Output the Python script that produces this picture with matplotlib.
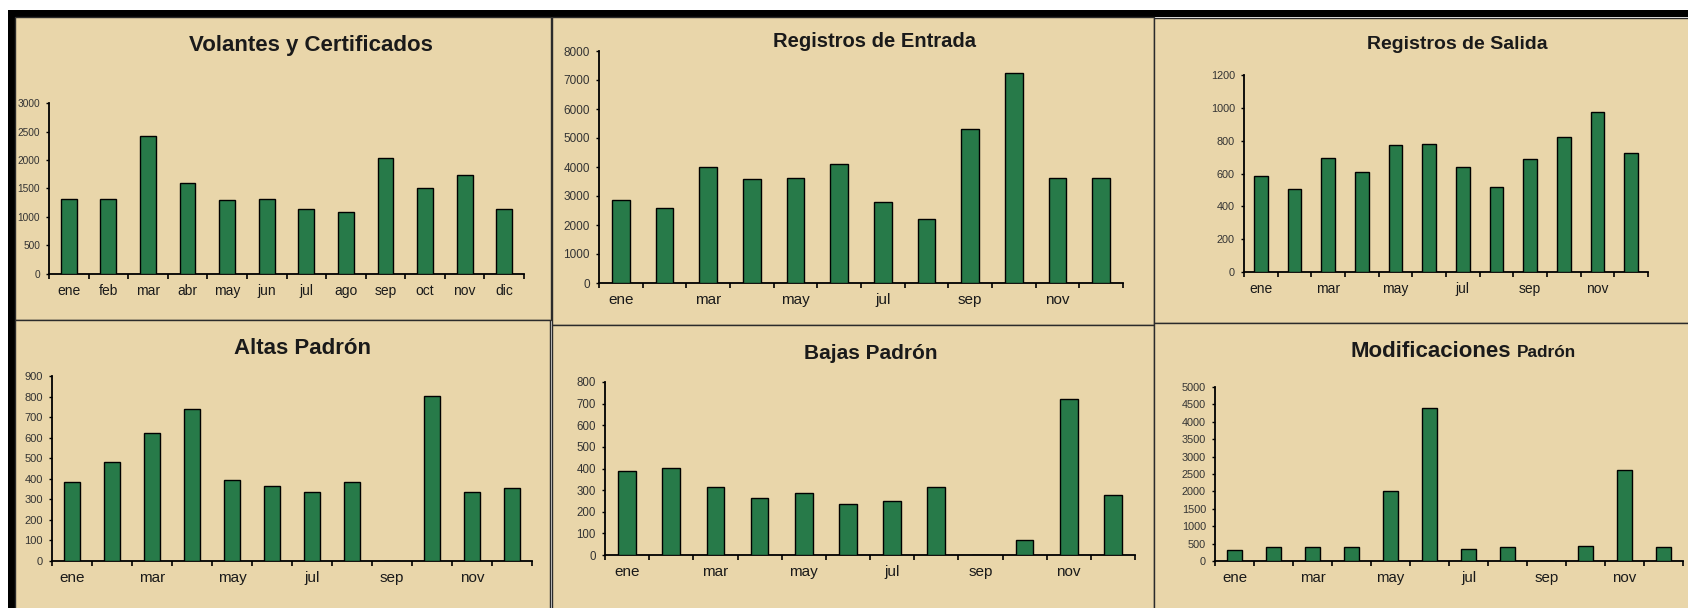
import matplotlib
matplotlib.use("Agg")
import matplotlib.pyplot as plt
from matplotlib.patches import Rectangle

W, H = 1688, 608

meses = ["ene", "feb", "mar", "abr", "may", "jun",
         "jul", "ago", "sep", "oct", "nov", "dic"]

volantes = [1320, 1320, 2425, 1600, 1300, 1320, 1135, 1080, 2040, 1515, 1740, 1135]
entrada = [2870, 2595, 4005, 3570, 3615, 4110, 2810, 2215, 5300, 7255, 3615, 3615]
salida = [582, 505, 697, 610, 774, 782, 639, 515, 687, 823, 973, 724]
altas = [382, 481, 625, 741, 396, 365, 335, 382, 0, 801, 335, 357]
bajas = [388, 402, 314, 263, 286, 235, 249, 314, 0, 68, 721, 278]
modif = [316, 393, 393, 393, 2020, 4405, 354, 393, 0, 441, 2605, 393]

BG = "#E9D6AA"
BAR = "#277A49"
TXT = "#1a1a1a"
SANS = ["Liberation Sans", "DejaVu Sans"]

fig = plt.figure(figsize=(W / 100, H / 100), dpi=100)
fig.patch.set_facecolor("white")


def fx(x):
    return x / W


def fy(y):
    return 1 - y / H


def box(x0, y0, x1, y1, fc=BG, ec="#2b2b2b", lw=1.0):
    fig.patches.append(Rectangle((fx(x0), fy(y1)), fx(x1) - fx(x0), fy(y0) - fy(y1),
                                 transform=fig.transFigure, facecolor=fc,
                                 edgecolor=ec, linewidth=lw, zorder=-10))


# outer frame (black bands) and panel backgrounds
box(8, 10, W, 17, fc="black", ec="none")
box(8, 10, 15, H, fc="black", ec="none")
box(15, 17, 551, 320)
box(552, 17, 1154, 325)
box(1154, 18, W + 2, 323)
box(15, 320, 550, H + 2)
box(552, 325, 1154, H + 2)
box(1154, 323, W + 2, H + 2)


def panel(vals, left, right, top, zero, ymax, step, ylsize, xlsize, all_labels):
    ax = fig.add_axes([fx(left), fy(zero), fx(right) - fx(left), fy(top) - fy(zero)])
    ax.set_facecolor("none")
    x = list(range(len(meses)))
    ax.bar(x, vals, width=0.4, color=BAR, edgecolor="black", linewidth=1.0, zorder=3)
    ax.set_xlim(-0.5, 11.5)
    ax.set_ylim(0, ymax)
    ax.set_yticks(range(0, ymax + 1, step))
    for s in ["top", "right"]:
        ax.spines[s].set_visible(False)
    for s in ["left", "bottom"]:
        ax.spines[s].set_color("black")
        ax.spines[s].set_linewidth(1.3)
    if all_labels:
        ax.set_xticks(x)
        ax.set_xticklabels(meses)
    else:
        ax.set_xticks(x[::2])
        ax.set_xticklabels(meses[::2])
    ax.set_xticks([i - 0.5 for i in range(13)], minor=True)
    ax.tick_params(axis="x", which="major", length=0, pad=7, labelsize=xlsize, labelcolor=TXT)
    ax.tick_params(axis="x", which="minor", length=3.5, width=1.2, direction="out")
    ax.tick_params(axis="y", length=2.5, width=1.0, direction="out", pad=4,
                   labelsize=ylsize, labelcolor="#333333")
    for lab in ax.get_xticklabels() + ax.get_yticklabels():
        lab.set_family(SANS)
    return ax


panel(volantes, 49, 524, 103, 274, 3000, 500, 7.3, 10, True)
panel(entrada, 599, 1123, 51, 283, 8000, 1000, 8.5, 11, False)
panel(salida, 1244, 1648, 75, 272, 1200, 200, 7.8, 10, False)
panel(altas, 52, 532, 376, 561, 900, 100, 8, 11, False)
panel(bajas, 605, 1135, 382, 555, 800, 100, 8.3, 11, False)
panel(modif, 1215, 1683, 387, 561, 5000, 500, 7.8, 10.8, False)

# titles
fig.text(fx(311), fy(51), "Volantes y Certificados", ha="center", va="baseline",
         fontsize=16, fontweight="bold", family=SANS, color=TXT)
fig.text(fx(875), fy(47), "Registros de Entrada", ha="center", va="baseline",
         fontsize=14.5, fontweight="bold", family=SANS, color=TXT)
fig.text(fx(1457), fy(49), "Registros de Salida", ha="center", va="baseline",
         fontsize=14, fontweight="bold", family=SANS, color=TXT)
fig.text(fx(302), fy(354), "Altas Padrón", ha="center", va="baseline",
         fontsize=16, fontweight="bold", family=SANS, color=TXT)
fig.text(fx(871), fy(359), "Bajas Padrón", ha="center", va="baseline",
         fontsize=15, fontweight="bold", family=SANS, color=TXT)
fig.text(fx(1511), fy(357), "Modificaciones", ha="right", va="baseline",
         fontsize=16, fontweight="bold", family=SANS, color=TXT)
fig.text(fx(1517), fy(357), "Padrón", ha="left", va="baseline",
         fontsize=12.4, fontweight="bold", family=SANS, color=TXT)

fig.savefig("out.png", dpi=100, facecolor=fig.get_facecolor())
